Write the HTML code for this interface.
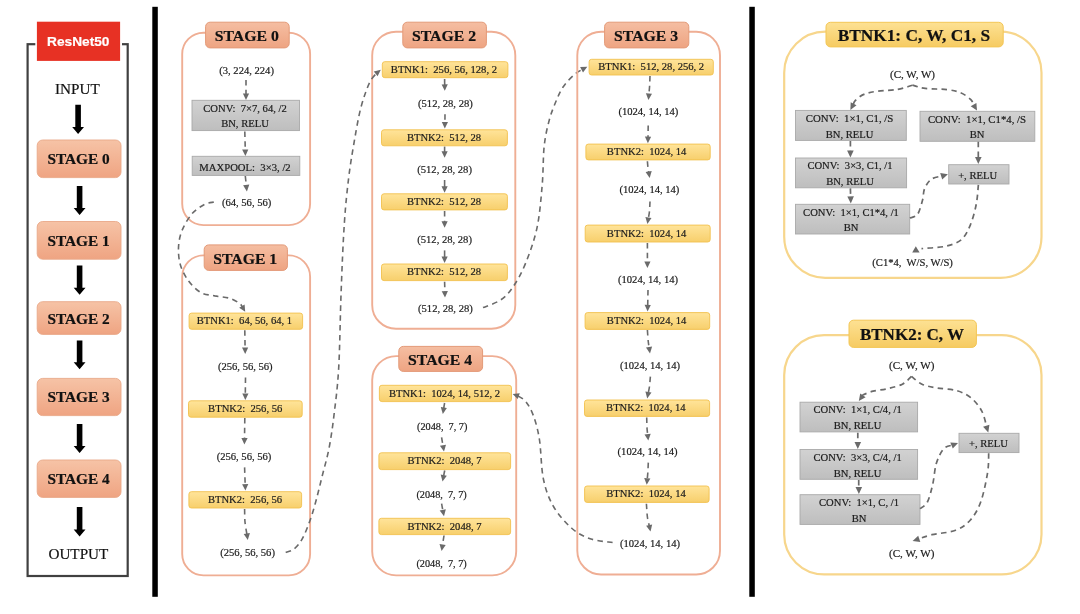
<!DOCTYPE html>
<html lang="en">
<head>
<meta charset="utf-8">
<title>ResNet50 architecture</title>
<style>
html,body{margin:0;padding:0;background:#fff;}
body{width:1080px;height:614px;overflow:hidden;}
svg{display:block;filter:blur(0.45px);}
svg text{font-family:"Liberation Serif",serif;text-anchor:middle;fill:#1c1c1c;white-space:pre;stroke:#1c1c1c;stroke-width:0.2px;}
</style>
</head>
<body>
<svg width="1080" height="614" viewBox="0 0 1080 614">
<defs>
<linearGradient id="go" x1="0" y1="0" x2="0" y2="1"><stop offset="0" stop-color="#f5bea2"/><stop offset="1" stop-color="#eea482"/></linearGradient>
<linearGradient id="gs" x1="0" y1="0" x2="0" y2="1"><stop offset="0" stop-color="#f6c3a6"/><stop offset="1" stop-color="#efa482"/></linearGradient>
<linearGradient id="gy" x1="0" y1="0" x2="0" y2="1"><stop offset="0" stop-color="#ffe49a"/><stop offset="1" stop-color="#f7cf6c"/></linearGradient>
<linearGradient id="gyl" x1="0" y1="0" x2="0" y2="1"><stop offset="0" stop-color="#fde193"/><stop offset="1" stop-color="#f6cb62"/></linearGradient>
<linearGradient id="gg" x1="0" y1="0" x2="0" y2="1"><stop offset="0" stop-color="#d2d2d2"/><stop offset="1" stop-color="#bebebe"/></linearGradient>
</defs>
<rect width="1080" height="614" fill="#fff"/>
<rect x="152.3" y="6.8" width="5.5" height="590.0" fill="#000"/>
<rect x="749.3" y="6.8" width="5.5" height="590.0" fill="#000"/>
<g id="overview">
<rect x="27.6" y="44.2" width="100.1" height="531.8" fill="none" stroke="#404040" stroke-width="2.2"/>
<rect x="35.3" y="40.0" width="86.7" height="10.0" fill="#fff"/>
<rect x="36.9" y="21.7" width="83.2" height="39.2" fill="#e73124"/>
<text x="78.3" y="46.3" font-size="13.6" font-weight="bold" style='fill:#fff;stroke:#fff;font-family:"Liberation Sans", sans-serif;' textLength="62.4" lengthAdjust="spacingAndGlyphs">ResNet50</text>
<text x="77.4" y="94.2" font-size="15.2" style='fill:#111;stroke:#111;'>INPUT</text>
<polygon points="75.3,104.8 80.9,104.8 80.9,127.0 84.0,127.0 78.1,134.0 72.2,127.0 75.3,127.0" fill="#000"/>
<rect x="37.2" y="140.0" width="83.8" height="37.6" rx="5.5" fill="url(#gs)" stroke="#e9a888" stroke-width="0.9"/>
<text x="78.6" y="163.5" font-size="15.2" font-weight="bold" style='fill:#111;stroke:#111;' textLength="62.3" lengthAdjust="spacingAndGlyphs">STAGE 0</text>
<rect x="37.2" y="221.5" width="83.8" height="37.7" rx="5.5" fill="url(#gs)" stroke="#e9a888" stroke-width="0.9"/>
<text x="78.6" y="245.5" font-size="15.2" font-weight="bold" style='fill:#111;stroke:#111;' textLength="62.3" lengthAdjust="spacingAndGlyphs">STAGE 1</text>
<rect x="37.2" y="301.7" width="83.8" height="32.7" rx="5.5" fill="url(#gs)" stroke="#e9a888" stroke-width="0.9"/>
<text x="78.6" y="323.8" font-size="15.2" font-weight="bold" style='fill:#111;stroke:#111;' textLength="62.3" lengthAdjust="spacingAndGlyphs">STAGE 2</text>
<rect x="37.2" y="378.4" width="83.8" height="37.2" rx="5.5" fill="url(#gs)" stroke="#e9a888" stroke-width="0.9"/>
<text x="78.6" y="401.8" font-size="15.2" font-weight="bold" style='fill:#111;stroke:#111;' textLength="62.3" lengthAdjust="spacingAndGlyphs">STAGE 3</text>
<rect x="37.2" y="460.0" width="83.8" height="37.4" rx="5.5" fill="url(#gs)" stroke="#e9a888" stroke-width="0.9"/>
<text x="78.6" y="484.3" font-size="15.2" font-weight="bold" style='fill:#111;stroke:#111;' textLength="62.3" lengthAdjust="spacingAndGlyphs">STAGE 4</text>
<polygon points="76.8,186.0 82.4,186.0 82.4,208.0 85.5,208.0 79.6,215.0 73.7,208.0 76.8,208.0" fill="#000"/>
<polygon points="76.8,265.5 82.4,265.5 82.4,287.8 85.5,287.8 79.6,294.8 73.7,287.8 76.8,287.8" fill="#000"/>
<polygon points="76.8,340.4 82.4,340.4 82.4,362.2 85.5,362.2 79.6,369.2 73.7,362.2 76.8,362.2" fill="#000"/>
<polygon points="76.8,423.9 82.4,423.9 82.4,446.1 85.5,446.1 79.6,453.1 73.7,446.1 76.8,446.1" fill="#000"/>
<polygon points="76.8,507.0 82.4,507.0 82.4,529.5 85.5,529.5 79.6,536.5 73.7,529.5 76.8,529.5" fill="#000"/>
<text x="78.4" y="558.8" font-size="15.2" style='fill:#111;stroke:#111;'>OUTPUT</text>
</g>
<g id="stage0">
<rect x="182.2" y="32.7" width="127.9" height="192.4" rx="21.3" fill="none" stroke="#efae94" stroke-width="1.9"/>
<rect x="205.6" y="22.2" width="83.6" height="25.7" rx="4.5" fill="url(#go)" stroke="#e39a78" stroke-width="1"/>
<text x="246.8" y="40.9" font-size="15.3" font-weight="bold" style='fill:#111;stroke:#111;' textLength="64.1" lengthAdjust="spacingAndGlyphs">STAGE 0</text>
<text x="246.6" y="73.7" font-size="10.6">(3, 224, 224)</text>
<rect x="192.0" y="100.3" width="107.5" height="30.3" fill="url(#gg)" stroke="#a9a9a9" stroke-width="0.9"/>
<text x="245.0" y="111.5" font-size="10.6">CONV:  7×7, 64, /2</text>
<text x="245.0" y="127.4" font-size="10.6">BN, RELU</text>
<rect x="192.2" y="156.3" width="107.6" height="19.1" fill="url(#gg)" stroke="#a9a9a9" stroke-width="0.9"/>
<text x="245.0" y="170.8" font-size="10.6" textLength="91.4" lengthAdjust="spacingAndGlyphs">MAXPOOL:  3×3, /2</text>
<text x="246.6" y="206.1" font-size="10.6">(64, 56, 56)</text>
<path d="M246.0,80.0L246.0,94.8" fill="none" stroke="#6a6a6a" stroke-width="1.6" stroke-dasharray="5.5 4.3"/>
<polygon points="246.0,100.0 242.9,93.5 249.1,93.5" fill="#6a6a6a"/>
<path d="M244.8,131.5L245.3,150.8" fill="none" stroke="#6a6a6a" stroke-width="1.6" stroke-dasharray="5.5 4.3"/>
<polygon points="245.4,156.0 242.1,149.6 248.3,149.4" fill="#6a6a6a"/>
<path d="M245.3,176.0L246.4,186.2" fill="none" stroke="#6a6a6a" stroke-width="1.6" stroke-dasharray="5.5 4.3"/>
<polygon points="246.9,191.4 243.1,185.3 249.3,184.6" fill="#6a6a6a"/>
</g>
<g id="stage1">
<rect x="182.2" y="255.4" width="127.9" height="320.0" rx="21.3" fill="none" stroke="#efae94" stroke-width="1.9"/>
<rect x="204.2" y="244.9" width="83.2" height="25.5" rx="4.5" fill="url(#go)" stroke="#e39a78" stroke-width="1"/>
<text x="245.2" y="263.5" font-size="15.3" font-weight="bold" style='fill:#111;stroke:#111;' textLength="64.1" lengthAdjust="spacingAndGlyphs">STAGE 1</text>
<rect x="189.1" y="313.1" width="113.5" height="16.2" rx="2.5" fill="url(#gy)" stroke="#f2c14e" stroke-width="0.9"/>
<text x="244.4" y="324.3" font-size="10.6">BTNK1:  64, 56, 64, 1</text>
<text x="245.3" y="369.7" font-size="10.6">(256, 56, 56)</text>
<rect x="188.5" y="400.8" width="113.7" height="16.4" rx="2.5" fill="url(#gy)" stroke="#f2c14e" stroke-width="0.9"/>
<text x="245.2" y="412.1" font-size="10.6">BTNK2:  256, 56</text>
<text x="244.0" y="459.9" font-size="10.6">(256, 56, 56)</text>
<rect x="188.9" y="491.7" width="112.7" height="16.3" rx="2.5" fill="url(#gy)" stroke="#f2c14e" stroke-width="0.9"/>
<text x="245.0" y="502.9" font-size="10.6">BTNK2:  256, 56</text>
<text x="247.6" y="555.5" font-size="10.6">(256, 56, 56)</text>
<path d="M244.8,330.2L245.1,348.8" fill="none" stroke="#6a6a6a" stroke-width="1.6" stroke-dasharray="5.5 4.3"/>
<polygon points="245.2,354.0 242.0,347.6 248.2,347.4" fill="#6a6a6a"/>
<path d="M245.5,377.4L245.3,394.8" fill="none" stroke="#6a6a6a" stroke-width="1.6" stroke-dasharray="5.5 4.3"/>
<polygon points="245.3,400.0 242.3,393.5 248.5,393.5" fill="#6a6a6a"/>
<path d="M244.8,418.0L244.5,439.4" fill="none" stroke="#6a6a6a" stroke-width="1.6" stroke-dasharray="5.5 4.3"/>
<polygon points="244.4,444.6 241.4,438.1 247.6,438.1" fill="#6a6a6a"/>
<path d="M244.6,467.4L245.2,485.4" fill="none" stroke="#6a6a6a" stroke-width="1.6" stroke-dasharray="5.5 4.3"/>
<polygon points="245.4,490.6 242.1,484.2 248.3,484.0" fill="#6a6a6a"/>
<path d="M244.6,509.0C244.7,511.2 244.6,517.7 245.0,522.0C245.4,526.3 246.7,532.7 247.0,534.9" fill="none" stroke="#6a6a6a" stroke-width="1.6" stroke-dasharray="5.5 4.3"/>
<polygon points="247.8,540.0 243.7,534.1 249.9,533.1" fill="#6a6a6a"/>
</g>
<path d="M213.8,202.1C212.3,202.5 208.2,202.5 204.6,204.4C201.0,206.3 196.1,209.1 192.4,213.3C188.7,217.5 184.7,224.2 182.4,229.6C180.1,235.0 179.0,240.1 178.6,245.9C178.2,251.7 178.6,258.5 180.2,264.3C181.8,270.1 184.9,275.9 188.3,280.6C191.7,285.3 196.2,289.8 200.6,292.4C205.0,294.9 210.1,294.9 214.8,295.9C219.6,296.8 225.0,296.9 229.1,298.1C233.2,299.3 237.1,301.7 239.3,303.2C241.5,304.7 242.0,306.6 242.6,307.3" fill="none" stroke="#6a6a6a" stroke-width="1.6" stroke-dasharray="5.5 4.3"/>
<polygon points="245.2,311.8 239.2,307.8 244.6,304.6" fill="#6a6a6a"/>
<g id="stage2">
<rect x="372.2" y="31.7" width="143.1" height="297.0" rx="23.8" fill="none" stroke="#efae94" stroke-width="1.9"/>
<rect x="402.8" y="22.2" width="83.6" height="25.7" rx="4.5" fill="url(#go)" stroke="#e39a78" stroke-width="1"/>
<text x="444.0" y="40.9" font-size="15.3" font-weight="bold" style='fill:#111;stroke:#111;' textLength="64.1" lengthAdjust="spacingAndGlyphs">STAGE 2</text>
<rect x="382.3" y="61.7" width="125.6" height="16.0" rx="2.5" fill="url(#gy)" stroke="#f2c14e" stroke-width="0.9"/>
<text x="443.9" y="72.8" font-size="10.6" textLength="106.2" lengthAdjust="spacingAndGlyphs">BTNK1:  256, 56, 128, 2</text>
<text x="445.4" y="106.9" font-size="10.6">(512, 28, 28)</text>
<rect x="381.5" y="129.8" width="125.9" height="16.0" rx="2.5" fill="url(#gy)" stroke="#f2c14e" stroke-width="0.9"/>
<text x="444.0" y="140.9" font-size="10.6">BTNK2:  512, 28</text>
<text x="444.6" y="172.5" font-size="10.6">(512, 28, 28)</text>
<rect x="381.5" y="193.8" width="125.9" height="16.1" rx="2.5" fill="url(#gy)" stroke="#f2c14e" stroke-width="0.9"/>
<text x="444.0" y="204.9" font-size="10.6">BTNK2:  512, 28</text>
<text x="444.6" y="242.5" font-size="10.6">(512, 28, 28)</text>
<rect x="381.5" y="264.0" width="125.9" height="16.6" rx="2.5" fill="url(#gy)" stroke="#f2c14e" stroke-width="0.9"/>
<text x="444.0" y="275.4" font-size="10.6">BTNK2:  512, 28</text>
<text x="445.4" y="312.1" font-size="10.6">(512, 28, 28)</text>
<path d="M444.6,79.0L444.7,85.6" fill="none" stroke="#6a6a6a" stroke-width="1.6"/>
<polygon points="444.8,90.8 441.6,84.4 447.8,84.2" fill="#6a6a6a"/>
<path d="M445.0,114.2L444.9,123.2" fill="none" stroke="#6a6a6a" stroke-width="1.6" stroke-dasharray="5.5 4.3"/>
<polygon points="444.8,128.4 441.8,121.9 448.0,121.9" fill="#6a6a6a"/>
<path d="M444.6,146.6L444.6,152.6" fill="none" stroke="#6a6a6a" stroke-width="1.6"/>
<polygon points="444.6,157.8 441.5,151.3 447.7,151.3" fill="#6a6a6a"/>
<path d="M444.6,180.0L444.6,187.6" fill="none" stroke="#6a6a6a" stroke-width="1.6"/>
<polygon points="444.6,192.8 441.5,186.3 447.7,186.3" fill="#6a6a6a"/>
<path d="M444.6,211.0L444.6,222.6" fill="none" stroke="#6a6a6a" stroke-width="1.6" stroke-dasharray="5.5 4.3"/>
<polygon points="444.6,227.8 441.5,221.3 447.7,221.3" fill="#6a6a6a"/>
<path d="M444.6,250.4L444.6,257.8" fill="none" stroke="#6a6a6a" stroke-width="1.6"/>
<polygon points="444.6,263.0 441.5,256.5 447.7,256.5" fill="#6a6a6a"/>
<path d="M444.6,281.8L444.9,292.4" fill="none" stroke="#6a6a6a" stroke-width="1.6" stroke-dasharray="5.5 4.3"/>
<polygon points="445.0,297.6 441.7,291.2 447.9,291.0" fill="#6a6a6a"/>
</g>
<path d="M285.7,552.4C286.8,552.0 289.9,551.6 292.0,550.3C294.1,549.0 296.6,547.0 298.6,544.4C300.7,541.8 302.4,538.8 304.3,534.8C306.2,530.8 308.3,525.2 310.1,520.2C311.9,515.2 313.0,511.7 315.0,504.5C317.0,497.3 319.6,486.6 321.9,477.2C324.2,467.8 327.0,458.8 329.0,448.4C331.0,438.0 332.4,428.4 334.0,415.0C335.6,401.6 337.5,388.6 338.7,367.8C339.9,347.0 340.2,314.2 341.2,290.0C342.1,265.8 343.1,241.5 344.4,222.8C345.6,204.1 347.1,190.9 348.7,177.6C350.3,164.3 352.0,154.6 354.0,143.0C356.0,131.4 358.2,118.0 360.8,108.0C363.4,98.0 366.8,88.6 369.5,82.8C372.2,77.0 375.5,74.7 376.7,73.0" fill="none" stroke="#6a6a6a" stroke-width="1.6" stroke-dasharray="5.5 4.3"/>
<polygon points="380.8,69.8 377.6,76.3 373.8,71.4" fill="#6a6a6a"/>
<g id="stage4">
<rect x="372.2" y="356.1" width="144.0" height="219.3" rx="24.0" fill="none" stroke="#efae94" stroke-width="1.9"/>
<rect x="398.8" y="346.4" width="83.8" height="25.0" rx="4.5" fill="url(#go)" stroke="#e39a78" stroke-width="1"/>
<text x="440.1" y="364.7" font-size="15.3" font-weight="bold" style='fill:#111;stroke:#111;' textLength="64.1" lengthAdjust="spacingAndGlyphs">STAGE 4</text>
<rect x="379.4" y="385.3" width="132.1" height="16.3" rx="2.5" fill="url(#gy)" stroke="#f2c14e" stroke-width="0.9"/>
<text x="444.5" y="396.5" font-size="10.6">BTNK1:  1024, 14, 512, 2</text>
<text x="442.2" y="429.9" font-size="10.6" textLength="50.4" lengthAdjust="spacingAndGlyphs">(2048,  7, 7)</text>
<rect x="378.9" y="452.8" width="131.7" height="16.8" rx="2.5" fill="url(#gy)" stroke="#f2c14e" stroke-width="0.9"/>
<text x="444.5" y="464.3" font-size="10.6">BTNK2:  2048, 7</text>
<text x="441.6" y="497.5" font-size="10.6" textLength="50.4" lengthAdjust="spacingAndGlyphs">(2048,  7, 7)</text>
<rect x="378.9" y="518.3" width="131.7" height="16.3" rx="2.5" fill="url(#gy)" stroke="#f2c14e" stroke-width="0.9"/>
<text x="444.5" y="529.5" font-size="10.6">BTNK2:  2048, 7</text>
<text x="441.6" y="566.9" font-size="10.6" textLength="50.4" lengthAdjust="spacingAndGlyphs">(2048,  7, 7)</text>
<path d="M444.6,403.0L443.6,408.9" fill="none" stroke="#6a6a6a" stroke-width="1.6" stroke-dasharray="5.5 4.3"/>
<polygon points="442.8,414.0 440.8,407.1 446.9,408.1" fill="#6a6a6a"/>
<path d="M441.6,437.4L443.1,446.5" fill="none" stroke="#6a6a6a" stroke-width="1.6" stroke-dasharray="5.5 4.3"/>
<polygon points="444.0,451.6 439.9,445.7 446.0,444.7" fill="#6a6a6a"/>
<path d="M444.7,470.5L443.5,476.5" fill="none" stroke="#6a6a6a" stroke-width="1.6" stroke-dasharray="5.5 4.3"/>
<polygon points="442.5,481.6 440.7,474.6 446.8,475.8" fill="#6a6a6a"/>
<path d="M441.6,503.7L443.0,511.2" fill="none" stroke="#6a6a6a" stroke-width="1.6" stroke-dasharray="5.5 4.3"/>
<polygon points="444.0,516.3 439.7,510.5 445.8,509.3" fill="#6a6a6a"/>
<path d="M444.0,535.5L442.4,545.9" fill="none" stroke="#6a6a6a" stroke-width="1.6" stroke-dasharray="5.5 4.3"/>
<polygon points="441.6,551.0 439.5,544.1 445.7,545.1" fill="#6a6a6a"/>
</g>
<path d="M483.0,307.6C485.9,306.3 495.6,303.4 500.6,300.0C505.6,296.6 508.8,293.2 513.0,287.0C517.2,280.8 521.7,272.9 525.7,263.0C529.7,253.1 534.2,240.8 537.0,227.8C539.8,214.8 541.0,198.6 542.2,185.0C543.4,171.4 543.0,156.8 544.2,146.0C545.4,135.2 547.3,127.5 549.3,120.0C551.3,112.5 553.7,106.8 556.0,101.3C558.3,95.8 560.2,91.2 563.3,86.7C566.3,82.2 571.1,77.5 574.3,74.6C577.5,71.7 581.3,70.1 582.7,69.2" fill="none" stroke="#6a6a6a" stroke-width="1.6" stroke-dasharray="5.5 4.3"/>
<polygon points="587.3,66.8 583.0,72.6 580.1,67.1" fill="#6a6a6a"/>
<g id="stage3">
<rect x="577.3" y="31.7" width="142.7" height="542.8" rx="23.8" fill="none" stroke="#efae94" stroke-width="1.9"/>
<rect x="604.6" y="22.2" width="84.2" height="25.7" rx="4.5" fill="url(#go)" stroke="#e39a78" stroke-width="1"/>
<text x="646.1" y="40.9" font-size="15.3" font-weight="bold" style='fill:#111;stroke:#111;' textLength="64.1" lengthAdjust="spacingAndGlyphs">STAGE 3</text>
<rect x="589.1" y="59.3" width="124.2" height="15.7" rx="2.5" fill="url(#gy)" stroke="#f2c14e" stroke-width="0.9"/>
<text x="651.2" y="70.2" font-size="10.6">BTNK1:  512, 28, 256, 2</text>
<text x="648.4" y="115.3" font-size="10.6">(1024, 14, 14)</text>
<rect x="585.9" y="144.1" width="124.3" height="15.8" rx="2.5" fill="url(#gy)" stroke="#f2c14e" stroke-width="0.9"/>
<text x="646.6" y="155.1" font-size="10.6">BTNK2:  1024, 14</text>
<text x="649.4" y="193.1" font-size="10.6">(1024, 14, 14)</text>
<rect x="585.2" y="225.1" width="125.0" height="16.9" rx="2.5" fill="url(#gy)" stroke="#f2c14e" stroke-width="0.9"/>
<text x="646.6" y="236.6" font-size="10.6">BTNK2:  1024, 14</text>
<text x="648.0" y="283.2" font-size="10.6">(1024, 14, 14)</text>
<rect x="585.1" y="312.6" width="124.6" height="16.8" rx="2.5" fill="url(#gy)" stroke="#f2c14e" stroke-width="0.9"/>
<text x="646.6" y="324.1" font-size="10.6">BTNK2:  1024, 14</text>
<text x="650.0" y="368.9" font-size="10.6">(1024, 14, 14)</text>
<rect x="584.5" y="400.0" width="125.1" height="16.4" rx="2.5" fill="url(#gy)" stroke="#f2c14e" stroke-width="0.9"/>
<text x="645.8" y="411.3" font-size="10.6">BTNK2:  1024, 14</text>
<text x="647.6" y="454.5" font-size="10.6">(1024, 14, 14)</text>
<rect x="584.6" y="486.0" width="124.5" height="16.4" rx="2.5" fill="url(#gy)" stroke="#f2c14e" stroke-width="0.9"/>
<text x="646.0" y="497.3" font-size="10.6">BTNK2:  1024, 14</text>
<text x="650.0" y="546.9" font-size="10.6">(1024, 14, 14)</text>
<path d="M650.0,76.0C649.9,77.7 649.8,82.9 649.6,86.0C649.4,89.1 649.0,93.3 648.8,94.7" fill="none" stroke="#6a6a6a" stroke-width="1.6" stroke-dasharray="5.5 4.3"/>
<polygon points="648.4,99.9 645.9,93.2 652.0,93.7" fill="#6a6a6a"/>
<path d="M648.2,125.5L648.0,138.0" fill="none" stroke="#6a6a6a" stroke-width="1.6" stroke-dasharray="5.5 4.3"/>
<polygon points="647.9,143.2 644.9,136.6 651.1,136.8" fill="#6a6a6a"/>
<path d="M647.4,161.3C647.5,162.4 647.8,166.1 648.0,168.0C648.2,169.9 648.7,172.1 648.8,172.9" fill="none" stroke="#6a6a6a" stroke-width="1.6" stroke-dasharray="5.5 4.3"/>
<polygon points="649.7,178.0 645.6,172.1 651.7,171.1" fill="#6a6a6a"/>
<path d="M650.0,201.5C649.9,203.2 649.7,209.1 649.4,212.0C649.1,214.9 648.4,217.7 648.3,218.9" fill="none" stroke="#6a6a6a" stroke-width="1.6" stroke-dasharray="5.5 4.3"/>
<polygon points="647.4,224.0 645.4,217.1 651.5,218.1" fill="#6a6a6a"/>
<path d="M647.4,243.0L647.4,262.8" fill="none" stroke="#6a6a6a" stroke-width="1.6" stroke-dasharray="5.5 4.3"/>
<polygon points="647.4,268.0 644.3,261.5 650.5,261.5" fill="#6a6a6a"/>
<path d="M648.0,290.0L647.7,306.2" fill="none" stroke="#6a6a6a" stroke-width="1.6" stroke-dasharray="5.5 4.3"/>
<polygon points="647.6,311.4 644.6,304.8 650.8,305.0" fill="#6a6a6a"/>
<path d="M647.4,330.0C647.5,331.8 647.9,337.9 648.2,341.0C648.5,344.1 649.1,347.1 649.3,348.4" fill="none" stroke="#6a6a6a" stroke-width="1.6" stroke-dasharray="5.5 4.3"/>
<polygon points="650.0,353.5 646.0,347.5 652.1,346.6" fill="#6a6a6a"/>
<path d="M650.4,376.6C650.2,378.3 649.8,384.2 649.4,387.0C649.0,389.8 648.4,392.2 648.2,393.3" fill="none" stroke="#6a6a6a" stroke-width="1.6" stroke-dasharray="5.5 4.3"/>
<polygon points="647.2,398.4 645.4,391.4 651.5,392.6" fill="#6a6a6a"/>
<path d="M646.7,417.5C646.8,419.2 646.8,425.0 647.0,428.0C647.2,431.0 647.6,434.1 647.8,435.3" fill="none" stroke="#6a6a6a" stroke-width="1.6" stroke-dasharray="5.5 4.3"/>
<polygon points="648.3,440.5 644.5,434.4 650.7,433.7" fill="#6a6a6a"/>
<path d="M648.3,462.6C648.2,464.3 648.0,470.2 647.8,473.0C647.6,475.8 647.3,478.4 647.2,479.5" fill="none" stroke="#6a6a6a" stroke-width="1.6" stroke-dasharray="5.5 4.3"/>
<polygon points="646.7,484.7 644.2,477.9 650.4,478.5" fill="#6a6a6a"/>
<path d="M646.4,503.7C646.6,505.9 646.9,513.2 647.4,517.0C647.9,520.8 649.1,524.8 649.4,526.4" fill="none" stroke="#6a6a6a" stroke-width="1.6" stroke-dasharray="5.5 4.3"/>
<polygon points="650.5,531.5 646.1,525.8 652.2,524.5" fill="#6a6a6a"/>
</g>
<path d="M612.6,542.5C609.0,541.9 597.8,541.3 591.0,539.0C584.2,536.7 578.2,533.9 572.0,528.5C565.8,523.1 558.3,514.8 553.5,506.5C548.7,498.2 545.7,490.1 543.4,479.0C541.1,467.9 541.1,450.5 539.5,440.0C537.9,429.5 535.8,422.4 533.5,416.0C531.2,409.6 528.4,404.9 525.7,401.5C523.0,398.1 518.9,396.7 517.5,395.7" fill="none" stroke="#6a6a6a" stroke-width="1.6" stroke-dasharray="5.5 4.3"/>
<polygon points="512.6,394.0 519.8,393.3 517.7,399.1" fill="#6a6a6a"/>
<g id="btnk1">
<rect x="784.2" y="31.7" width="257.3" height="246.1" rx="41.0" fill="none" stroke="#f7d68c" stroke-width="2.2"/>
<rect x="826.0" y="22.3" width="177.2" height="24.6" rx="4.5" fill="url(#gyl)" stroke="#f3c655" stroke-width="1"/>
<text x="913.9" y="41.0" font-size="17" font-weight="bold" style='fill:#111;stroke:#111;' textLength="152.5" lengthAdjust="spacingAndGlyphs">BTNK1: C, W, C1, S</text>
<text x="912.5" y="78.1" font-size="10.6" textLength="45.0" lengthAdjust="spacingAndGlyphs">(C, W, W)</text>
<rect x="795.5" y="110.4" width="110.8" height="30.0" fill="url(#gg)" stroke="#a9a9a9" stroke-width="0.9"/>
<text x="849.6" y="121.6" font-size="10.6" textLength="87.6" lengthAdjust="spacingAndGlyphs">CONV:  1×1, C1, /S</text>
<text x="849.6" y="137.5" font-size="10.6">BN, RELU</text>
<rect x="920.0" y="111.3" width="114.8" height="30.0" fill="url(#gg)" stroke="#a9a9a9" stroke-width="0.9"/>
<text x="977.0" y="122.5" font-size="10.6" textLength="98.2" lengthAdjust="spacingAndGlyphs">CONV:  1×1, C1*4, /S</text>
<text x="977.0" y="138.4" font-size="10.6">BN</text>
<rect x="795.5" y="158.0" width="111.1" height="29.8" fill="url(#gg)" stroke="#a9a9a9" stroke-width="0.9"/>
<text x="850.0" y="169.2" font-size="10.6">CONV:  3×3, C1, /1</text>
<text x="850.0" y="185.1" font-size="10.6">BN, RELU</text>
<rect x="795.5" y="204.3" width="114.2" height="29.7" fill="url(#gg)" stroke="#a9a9a9" stroke-width="0.9"/>
<text x="851.0" y="215.5" font-size="10.6">CONV:  1×1, C1*4, /1</text>
<text x="851.0" y="231.4" font-size="10.6">BN</text>
<rect x="948.7" y="164.7" width="60.3" height="19.3" fill="url(#gg)" stroke="#a9a9a9" stroke-width="0.9"/>
<text x="977.6" y="178.6" font-size="10.6">+, RELU</text>
<text x="912.6" y="266.2" font-size="10.6">(C1*4,  W/S, W/S)</text>
<path d="M912.5,85.2C910.0,85.9 903.3,88.4 897.4,89.4C891.5,90.4 882.8,90.4 877.2,91.2C871.6,92.0 867.4,92.9 863.8,94.4C860.2,95.9 857.2,98.5 855.4,100.3C853.6,102.1 853.4,104.2 853.0,105.0" fill="none" stroke="#6a6a6a" stroke-width="1.7" stroke-dasharray="5.5 4.3"/>
<polygon points="850.4,110.0 850.7,102.3 856.5,105.3" fill="#6a6a6a"/>
<path d="M912.5,85.2C914.6,85.7 919.5,87.7 925.3,88.4C931.1,89.1 941.2,88.9 947.1,89.6C953.0,90.3 956.6,91.1 960.5,92.7C964.4,94.3 968.3,97.2 970.6,99.4C972.9,101.6 973.6,104.7 974.2,105.7" fill="none" stroke="#6a6a6a" stroke-width="1.7" stroke-dasharray="5.5 4.3"/>
<polygon points="977.0,110.6 970.7,106.2 976.4,102.9" fill="#6a6a6a"/>
<path d="M850.4,141.0L850.4,151.8" fill="none" stroke="#6a6a6a" stroke-width="1.7" stroke-dasharray="5.5 4.3"/>
<polygon points="850.4,157.4 847.1,150.4 853.7,150.4" fill="#6a6a6a"/>
<path d="M850.4,188.4L850.7,197.8" fill="none" stroke="#6a6a6a" stroke-width="1.7" stroke-dasharray="5.5 4.3"/>
<polygon points="850.8,203.4 847.3,196.5 853.9,196.3" fill="#6a6a6a"/>
<path d="M978.3,141.8L978.3,158.4" fill="none" stroke="#6a6a6a" stroke-width="1.7" stroke-dasharray="5.5 4.3"/>
<polygon points="978.3,164.0 975.0,157.0 981.6,157.0" fill="#6a6a6a"/>
<path d="M909.9,218.0C911.2,217.4 915.4,217.3 917.5,214.4C919.6,211.5 921.3,204.6 922.5,200.3C923.7,196.0 923.1,192.1 924.6,188.6C926.1,185.1 928.4,181.3 931.4,179.2C934.4,177.1 940.7,176.4 942.5,175.8" fill="none" stroke="#6a6a6a" stroke-width="1.7" stroke-dasharray="5.5 4.3"/>
<polygon points="947.9,174.2 942.2,179.4 940.2,173.1" fill="#6a6a6a"/>
<path d="M978.4,184.8C978.0,188.0 977.6,197.3 976.3,204.0C975.0,210.7 972.9,218.9 970.4,224.8C967.9,230.7 965.5,236.1 961.5,239.6C957.5,243.1 952.0,244.6 946.7,246.0C941.5,247.4 934.2,247.6 930.0,248.0C925.8,248.4 922.9,248.5 921.5,248.6" fill="none" stroke="#6a6a6a" stroke-width="1.7" stroke-dasharray="5.5 4.3"/>
<polygon points="915.8,246.2 919.6,252.6 912.2,252.4" fill="#6a6a6a"/>
</g>
<g id="btnk2">
<rect x="784.2" y="335.2" width="257.3" height="239.2" rx="39.9" fill="none" stroke="#f7d68c" stroke-width="2.2"/>
<rect x="849.0" y="320.2" width="127.4" height="27.2" rx="4.5" fill="url(#gyl)" stroke="#f3c655" stroke-width="1"/>
<text x="912.0" y="340.2" font-size="17" font-weight="bold" style='fill:#111;stroke:#111;' textLength="104.2" lengthAdjust="spacingAndGlyphs">BTNK2: C, W</text>
<text x="911.7" y="368.7" font-size="10.6" textLength="45.4" lengthAdjust="spacingAndGlyphs">(C, W, W)</text>
<rect x="800.0" y="402.2" width="117.6" height="29.7" fill="url(#gg)" stroke="#a9a9a9" stroke-width="0.9"/>
<text x="857.6" y="413.4" font-size="10.6">CONV:  1×1, C/4, /1</text>
<text x="857.6" y="429.3" font-size="10.6">BN, RELU</text>
<rect x="800.0" y="449.5" width="117.6" height="29.8" fill="url(#gg)" stroke="#a9a9a9" stroke-width="0.9"/>
<text x="857.6" y="460.7" font-size="10.6">CONV:  3×3, C/4, /1</text>
<text x="857.6" y="476.6" font-size="10.6">BN, RELU</text>
<rect x="800.0" y="494.7" width="120.0" height="29.7" fill="url(#gg)" stroke="#a9a9a9" stroke-width="0.9"/>
<text x="859.0" y="505.9" font-size="10.6">CONV:  1×1, C, /1</text>
<text x="859.0" y="521.8" font-size="10.6">BN</text>
<rect x="959.0" y="433.3" width="60.0" height="19.3" fill="url(#gg)" stroke="#a9a9a9" stroke-width="0.9"/>
<text x="988.4" y="447.2" font-size="10.6">+, RELU</text>
<text x="911.7" y="556.9" font-size="10.6" textLength="45.4" lengthAdjust="spacingAndGlyphs">(C, W, W)</text>
<path d="M911.5,376.4C910.0,377.7 906.4,382.2 902.4,384.2C898.4,386.2 892.7,387.4 887.8,388.6C882.9,389.8 877.2,390.2 873.1,391.2C869.0,392.2 865.1,393.9 863.3,394.8C861.5,395.7 862.3,396.2 862.1,396.5" fill="none" stroke="#6a6a6a" stroke-width="1.7" stroke-dasharray="5.5 4.3"/>
<polygon points="858.8,401.0 860.2,393.4 865.6,397.3" fill="#6a6a6a"/>
<path d="M911.5,376.4C913.2,377.7 917.8,382.3 922.0,384.2C926.2,386.1 930.9,386.8 936.6,387.9C942.3,388.9 950.5,388.9 956.2,390.5C961.9,392.1 966.5,394.3 970.8,397.7C975.1,401.1 979.2,406.2 981.8,411.1C984.4,416.0 985.9,424.4 986.7,427.0" fill="none" stroke="#6a6a6a" stroke-width="1.7" stroke-dasharray="5.5 4.3"/>
<polygon points="988.3,432.4 983.1,426.7 989.4,424.7" fill="#6a6a6a"/>
<path d="M857.8,432.7L857.8,443.4" fill="none" stroke="#6a6a6a" stroke-width="1.7" stroke-dasharray="5.5 4.3"/>
<polygon points="857.8,449.0 854.5,442.0 861.1,442.0" fill="#6a6a6a"/>
<path d="M858.7,480.0L858.8,488.4" fill="none" stroke="#6a6a6a" stroke-width="1.7" stroke-dasharray="5.5 4.3"/>
<polygon points="858.9,494.0 855.5,487.0 862.1,487.0" fill="#6a6a6a"/>
<path d="M920.0,508.7C921.2,507.6 925.3,506.1 927.4,502.0C929.5,497.9 931.2,490.8 932.7,484.4C934.2,478.0 934.5,469.5 936.3,463.6C938.1,457.7 940.9,451.9 943.7,448.8C946.5,445.7 951.3,445.7 952.8,445.0" fill="none" stroke="#6a6a6a" stroke-width="1.7" stroke-dasharray="5.5 4.3"/>
<polygon points="958.0,442.9 952.8,448.6 950.3,442.5" fill="#6a6a6a"/>
<path d="M988.7,453.3C988.5,456.5 988.9,464.4 987.6,472.5C986.3,480.6 983.6,494.1 980.7,502.0C977.8,509.9 974.6,515.3 970.4,520.0C966.2,524.7 962.0,527.8 955.6,530.3C949.2,532.8 938.2,533.2 931.9,534.7C925.6,536.2 920.3,538.5 917.9,539.3" fill="none" stroke="#6a6a6a" stroke-width="1.7" stroke-dasharray="5.5 4.3"/>
<polygon points="912.6,541.0 918.2,535.7 920.3,542.0" fill="#6a6a6a"/>
</g>
</svg>
</body>
</html>
